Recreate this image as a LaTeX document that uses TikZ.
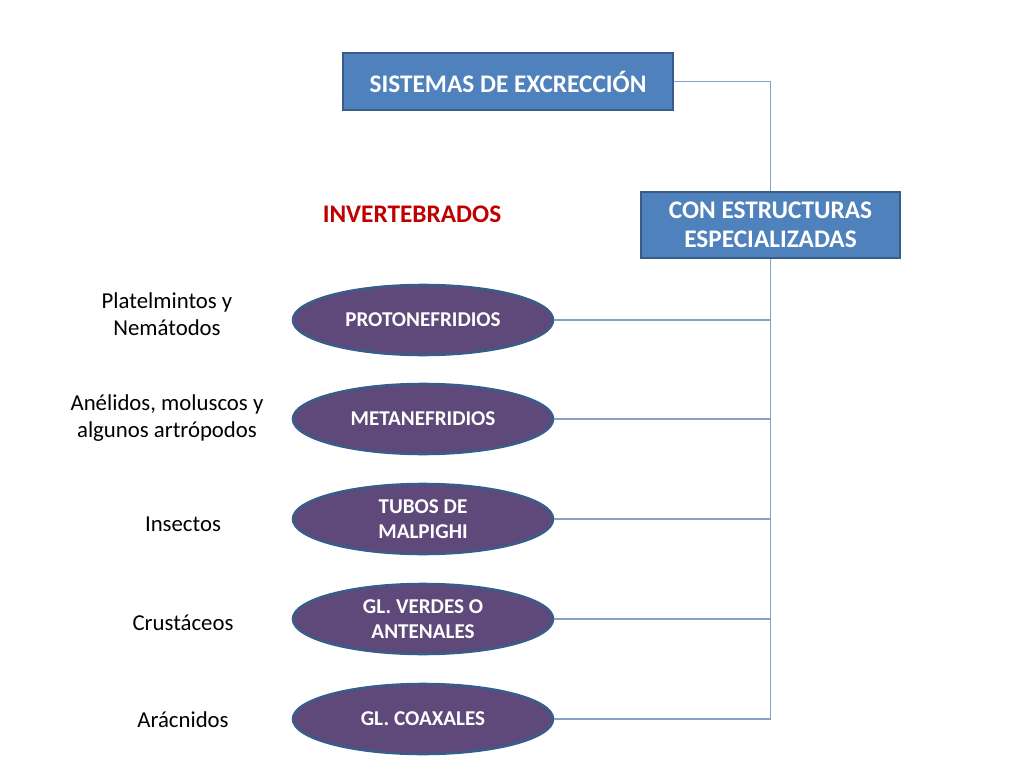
\documentclass[tikz,border=0pt]{standalone}
\usepackage{fontspec}
\setmainfont{Carlito}
\usepackage{tikz}
\usetikzlibrary{shapes.geometric, positioning}
\definecolor{boxblue}{RGB}{79, 129, 189}
\definecolor{boxedge}{RGB}{56, 93, 138}
\definecolor{ovalfill}{RGB}{95, 73, 122}
\definecolor{linkblue}{RGB}{135, 160, 198}
\definecolor{titlered}{RGB}{192, 0, 0}

\begin{document}
\begin{tikzpicture}[x=0.025cm, y=-0.025cm,
    headbox/.style={draw=boxedge, fill=boxblue, line width=1.4pt, text=white, font=\fontsize{18}{20.5}\selectfont\bfseries, align=center},
    organ/.style={ellipse, draw=boxedge, fill=ovalfill, line width=1.8pt, text=white, font=\fontsize{15}{18}\selectfont\bfseries, align=center, minimum width=6.5cm, minimum height=1.75cm, inner sep=0pt},
    group/.style={font=\fontsize{16.2}{19}\selectfont, align=center},
    link/.style={draw=linkblue, line width=0.8pt}]
  \useasboundingbox (0,0) rectangle (1024,768);
  % cabecera
  \node[headbox, minimum width=8.25cm, minimum height=1.425cm] (sistemas) at (508,81.5) {SISTEMAS DE EXCRECCIÓN};
  \node[headbox, minimum width=6.475cm, minimum height=1.65cm] (especial) at (770.5,225) {CON ESTRUCTURAS\\ESPECIALIZADAS};
  \node[titlered, font=\fontsize{18}{20.5}\selectfont\bfseries] (invert) at (412,214) {INVERTEBRADOS};
  % organos
  \node[organ] (proto) at (423,320) {PROTONEFRIDIOS};
  \node[organ] (meta) at (423,419) {METANEFRIDIOS};
  \node[organ] (malpighi) at (423,519) {TUBOS DE\\MALPIGHI};
  \node[organ] (verdes) at (423,619) {GL. VERDES O\\ANTENALES};
  \node[organ] (coax) at (423,719) {GL. COAXALES};
  % grupos
  \node[group] (platel) at (167,314) {Platelmintos y\\Nemátodos};
  \node[group] (anel) at (167,418) {Anélidos, moluscos y\\algunos artrópodos};
  \node[group] (insect) at (183,524) {Insectos};
  \node[group] (crust) at (183,623) {Crustáceos};
  \node[group] (arac) at (183,720) {Arácnidos};
  % conexiones
  \draw[link] (sistemas.east) -| (especial.north);
  \draw[link] (especial.south) -- (especial.south |- coax.east) -- (coax.east);
  \foreach \o in {proto, meta, malpighi, verdes}
    \draw[link] (\o.east) -- (especial.south |- \o.east);
\end{tikzpicture}
\end{document}
